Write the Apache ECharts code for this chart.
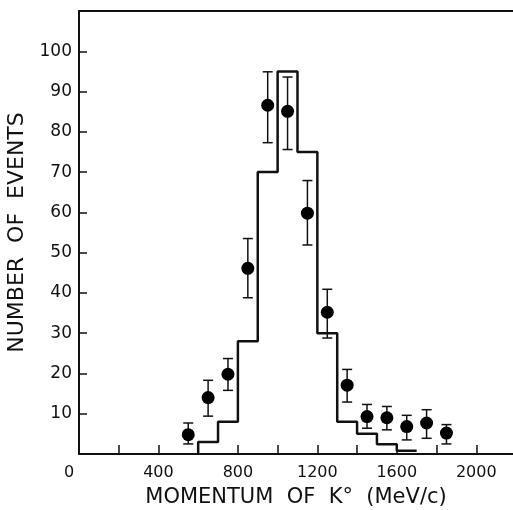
<!DOCTYPE html>
<html>
<head>
<meta charset="utf-8">
<script src="https://cdn.jsdelivr.net/npm/echarts@6/dist/echarts.min.js"></script>
<style>
  html, body { margin: 0; padding: 0; background: #fff; }
  #main { width: 513px; height: 510px; }
</style>
</head>
<body>
<div id="main"></div>
<script>
// histogram (Monte Carlo) - bin edges and heights
var binEdges = [600, 700, 800, 900, 1000, 1100, 1200, 1300, 1400, 1500, 1600, 1700];
var binHeights = [3, 8, 28, 70, 95, 75, 30, 8, 5, 2.4, 0.8];

// measured points with error bars
var momentum = [550, 650, 750, 850, 950, 1050, 1150, 1250, 1350, 1450, 1550, 1650, 1750, 1850];
var events = [4.8, 14, 19.8, 46.1, 86.6, 85.1, 59.8, 35.2, 17.1, 9.3, 9.0, 6.8, 7.7, 5.2];
var errHigh = [7.7, 18.3, 23.7, 53.5, 94.9, 93.6, 67.9, 40.9, 21.0, 12.3, 11.8, 9.6, 11.0, 7.3];
var errLow = [2.5, 9.4, 15.8, 38.8, 77.3, 75.6, 51.9, 28.8, 12.9, 6.4, 6.0, 3.5, 3.9, 2.5];

var xLabels = [0, 400, 800, 1200, 1600, 2000];
var xTicks = [200, 400, 600, 800, 1000, 1200, 1400, 1600, 1800, 2000];
var yTicks = [10, 20, 30, 40, 50, 60, 70, 80, 90, 100];

var ink = '#111';
var font = 'DejaVu Sans';

var chart = echarts.init(document.getElementById('main'));

// step outline of the histogram
var histLine = [[binEdges[0], 0]];
for (var i = 0; i < binHeights.length; i++) {
    histLine.push([binEdges[i], binHeights[i]]);
    histLine.push([binEdges[i + 1], binHeights[i]]);
}

var points = momentum.map(function (m, i) { return [m, events[i]]; });
var bars = momentum.map(function (m, i) { return [m, errLow[i], errHigh[i]]; });

var option = {
    backgroundColor: '#fff',
    animation: false,
    grid: { left: 79, right: 0, top: 11, bottom: 56, containLabel: false, outerBoundsMode: 'none' },
    xAxis: [{
        type: 'value',
        min: 0,
        max: 2185,
        name: 'MOMENTUM  OF  K°  (MeV/c)',
        nameLocation: 'middle',
        nameGap: 33,
        nameTextStyle: { color: ink, fontFamily: font, fontSize: 21 },
        axisLine: { lineStyle: { color: ink, width: 2 } },
        axisTick: { inside: true, length: 9, customValues: xTicks, lineStyle: { color: ink, width: 1.5 } },
        axisLabel: {
            customValues: xLabels,
            color: ink, fontFamily: font, fontSize: 16, margin: 11,
            formatter: function (v) { return v === 0 ? '{z|0}' : String(v); },
            rich: { z: { color: ink, fontFamily: font, fontSize: 16, padding: [0, 20, 0, 0] } }
        },
        splitLine: { show: false }
    }, {
        type: 'value',
        position: 'top',
        min: 0,
        max: 2185,
        axisLine: { lineStyle: { color: ink, width: 2 } },
        axisTick: { show: false },
        axisLabel: { show: false },
        splitLine: { show: false }
    }],
    yAxis: {
        type: 'value',
        min: 0,
        max: 110,
        name: 'NUMBER  OF  EVENTS',
        nameLocation: 'middle',
        nameGap: 40,
        nameTextStyle: { color: ink, fontFamily: font, fontSize: 22 },
        axisLine: { show: true, lineStyle: { color: ink, width: 2 } },
        axisTick: { show: true, inside: true, length: 8, customValues: yTicks, lineStyle: { color: ink, width: 1.5 } },
        axisLabel: { customValues: yTicks, color: ink, fontFamily: font, fontSize: 17, margin: 7 },
        splitLine: { show: false }
    },
    series: [{
        type: 'line',
        data: histLine,
        symbol: 'none',
        lineStyle: { color: ink, width: 2.5 },
        z: 2
    }, {
        type: 'custom',
        data: bars,
        renderItem: function (params, api) {
            var top = api.coord([api.value(0), api.value(2)]);
            var bot = api.coord([api.value(0), api.value(1)]);
            var w = 5;
            var st = { stroke: ink, lineWidth: 1.5 };
            return {
                type: 'group',
                children: [
                    { type: 'line', shape: { x1: top[0], y1: top[1], x2: bot[0], y2: bot[1] }, style: st },
                    { type: 'line', shape: { x1: top[0] - w, y1: top[1], x2: top[0] + w, y2: top[1] }, style: st },
                    { type: 'line', shape: { x1: bot[0] - w, y1: bot[1], x2: bot[0] + w, y2: bot[1] }, style: st }
                ]
            };
        },
        z: 3
    }, {
        type: 'scatter',
        data: points,
        symbol: 'circle',
        symbolSize: 13,
        itemStyle: { color: '#000', opacity: 1 },
        z: 4
    }]
};

chart.setOption(option);
</script>
</body>
</html>
